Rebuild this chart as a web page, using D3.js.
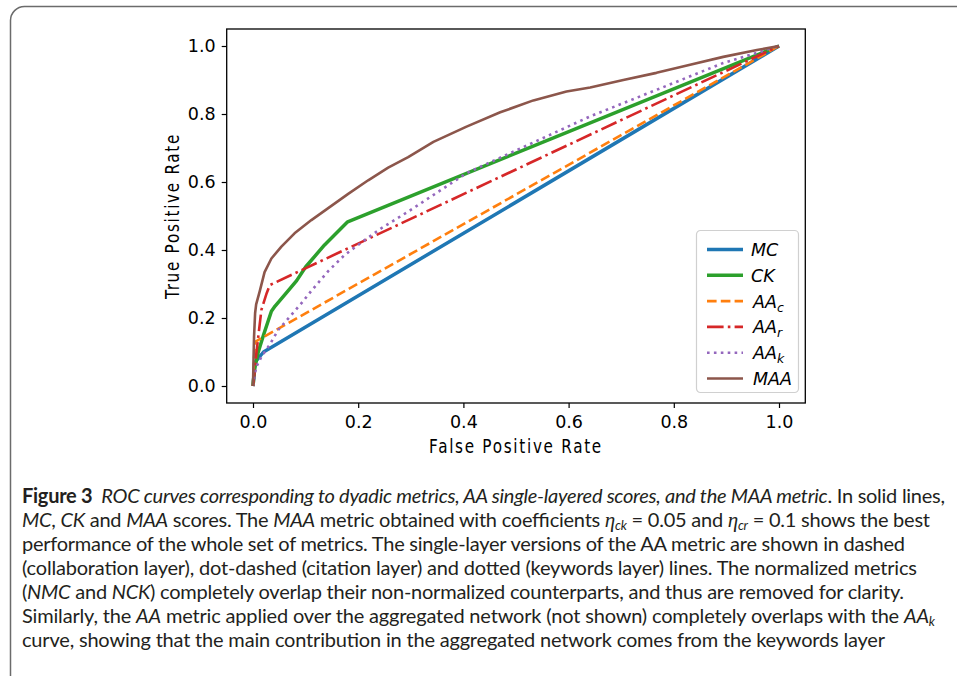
<!DOCTYPE html>
<html>
<head>
<meta charset="utf-8">
<script src="https://cdn.jsdelivr.net/npm/d3@7"></script>
<style>
  body { margin: 0; background: #fff; }
  #chart svg { display: block; }
</style>
</head>
<body>
<div id="chart"></div>
<script>
// Size of the page
var width = 957;
var height = 676;

// ROC points [fpr, tpr]
var mcPoints = [[0, 0], [0.004, 0.07], [0.02, 0.10], [1, 1]];
var ckPoints = [[0, 0], [0.003, 0.05], [0.01, 0.10], [0.02, 0.15], [0.035, 0.22], [0.042, 0.235],
    [0.063, 0.273], [0.083, 0.31], [0.1, 0.35], [0.136, 0.415], [0.18, 0.483], [1, 1]];
var aacPoints = [[0, 0], [0.002, 0.08], [0.004, 0.13], [1, 1]];
var aarPoints = [[0, 0], [0.003, 0.04], [0.006, 0.09], [0.01, 0.145], [0.016, 0.224],
    [0.026, 0.273], [0.032, 0.297], [1, 1]];
var aakPoints = [[0, 0], [0.003, 0.03], [0.006, 0.055], [0.016, 0.086], [0.032, 0.122],
    [0.048, 0.165], [0.07, 0.204], [0.093, 0.245], [0.111, 0.28], [0.143, 0.338], [0.174, 0.385],
    [0.206, 0.422], [0.244, 0.464], [0.295, 0.513], [0.406, 0.626], [0.641, 0.793],
    [0.767, 0.871], [0.894, 0.95], [1, 1]];
var maaPoints = [[0, 0], [0.001, 0.08], [0.002, 0.145], [0.004, 0.214], [0.006, 0.24],
    [0.013, 0.28], [0.022, 0.335], [0.035, 0.375], [0.054, 0.41], [0.079, 0.449],
    [0.111, 0.488], [0.143, 0.523], [0.181, 0.565], [0.219, 0.605], [0.257, 0.642],
    [0.295, 0.673], [0.343, 0.718], [0.406, 0.763], [0.47, 0.805], [0.533, 0.84],
    [0.596, 0.866], [0.641, 0.878], [0.704, 0.9], [0.767, 0.921], [0.831, 0.945],
    [0.894, 0.968], [0.958, 0.988], [1, 1]];

// Legend names and subscripts, in drawing order
var seriesNames = ["MC", "CK", "AA", "AA", "AA", "MAA"];
var seriesSubs = ["", "", "c", "r", "k", ""];
var seriesColors = ["#1f77b4", "#2ca02c", "#ff7f0e", "#d62728", "#9467bd", "#8c564b"];

// Tick values for both axes
var tickValues = [0, 0.2, 0.4, 0.6, 0.8, 1.0];

// Caption lines: [text, style] pieces, style n = normal, b = bold, i = italic, e = eta, s = italic subscript
var captionLines = [
    [["Figure 3", "b"], ["  ROC curves corresponding to dyadic metrics, AA single-layered scores, and the MAA metric", "i"], [". In solid lines,", "n"]],
    [["MC", "i"], [", ", "n"], ["CK", "i"], [" and ", "n"], ["MAA", "i"], [" scores. The ", "n"], ["MAA", "i"],
        [" metric obtained with coefficients ", "n"], ["η", "e"], ["ck", "s"], [" = 0.05 and ", "n"], ["η", "e"], ["cr", "s"],
        [" = 0.1 shows the best", "n"]],
    [["performance of the whole set of metrics. The single-layer versions of the AA metric are shown in dashed", "n"]],
    [["(collaboration layer), dot-dashed (citation layer) and dotted (keywords layer) lines. The normalized metrics", "n"]],
    [["(", "n"], ["NMC", "i"], [" and ", "n"], ["NCK", "i"], [") completely overlap their non-normalized counterparts, and thus are removed for clarity.", "n"]],
    [["Similarly, the ", "n"], ["AA", "i"], [" metric applied over the aggregated network (not shown) completely overlaps with the ", "n"], ["AA", "i"], ["k", "s"]],
    [["curve, showing that the main contribution in the aggregated network comes from the keywords layer", "n"]]
];
var captionEnds = [945, 930, 905, 917, 904, 935, 885];

var svg;

function createSVG(width, height) {
    return d3.select("#chart")
        .append("svg")
        .attr("width", width)
        .attr("height", height);
}

// Rounded frame around the figure, open to the right and bottom
function drawFrame(svg) {
    svg.append("rect")
        .attr("x", 10.5)
        .attr("y", 6.5)
        .attr("width", 1000)
        .attr("height", 1000)
        .attr("rx", 14)
        .style("fill", "none")
        .style("stroke", "#6b6b6b")
        .style("stroke-width", 1.5);
}

// Condensed axis title: wide spacing, squeezed horizontally
function axisTitle(svg, tx, ty, rot, label) {
    svg.append("text")
        .attr("transform", "translate(" + tx + "," + ty + ") rotate(" + rot + ") scale(0.78,1)")
        .attr("text-anchor", "middle")
        .style("font-family", "DejaVu Sans")
        .style("font-size", "19.5px")
        .style("letter-spacing", "2.2px")
        .style("fill", "#000")
        .text(label);
}

function drawPlot(svg) {
    var x = d3.scaleLinear().domain([-0.05, 1.05]).range([226.7, 805.3]);
    var y = d3.scaleLinear().domain([-0.05, 1.05]).range([403, 29]);

    var line = d3.line()
        .x(function(d) { return x(d[0]); })
        .y(function(d) { return y(d[1]); });

    var allSeries = [mcPoints, ckPoints, aacPoints, aarPoints, aakPoints, maaPoints];
    var widths = [3.5, 3.5, 2.6, 2.6, 2.6, 2.6];
    var dashes = [null, null, "9.6,4.2", "16.6,4.2,2.6,4.2", "2.6,4.3", null];

    var plot = svg.append("g");
    allSeries.forEach(function(pts, i) {
        plot.append("path")
            .datum(pts)
            .attr("d", line)
            .style("fill", "none")
            .style("stroke", seriesColors[i])
            .style("stroke-width", widths[i])
            .style("stroke-dasharray", dashes[i])
            .style("stroke-linejoin", "round");
    });

    // axes
    var xAxis = svg.append("g")
        .attr("transform", "translate(0,403)")
        .call(d3.axisBottom(x).tickValues(tickValues).tickFormat(d3.format(".1f")).tickSize(5).tickPadding(8));
    var yAxis = svg.append("g")
        .attr("transform", "translate(226.7,0)")
        .call(d3.axisLeft(y).tickValues(tickValues).tickFormat(d3.format(".1f")).tickSize(5).tickPadding(6));

    [xAxis, yAxis].forEach(function(ax) {
        ax.select(".domain").remove();
        ax.selectAll("line").style("stroke", "#000").style("stroke-width", 1.2);
        ax.selectAll("text")
            .style("font-family", "DejaVu Sans")
            .style("font-size", "17.5px")
            .style("fill", "#000");
    });

    // frame of the axes
    svg.append("rect")
        .attr("x", 226.7)
        .attr("y", 29)
        .attr("width", 578.6)
        .attr("height", 374)
        .style("fill", "none")
        .style("stroke", "#000")
        .style("stroke-width", 1.3);

    axisTitle(svg, 516, 453, 0, "False Positive Rate");
    axisTitle(svg, 179, 216, -90, "True Positive Rate");

    createLegend(svg, widths, dashes);
}

function createLegend(svg, widths, dashes) {
    var legend = svg.append("g").attr("transform", "translate(696,230)");

    legend.append("rect")
        .attr("x", 0.5)
        .attr("y", 0.5)
        .attr("width", 102)
        .attr("height", 162)
        .attr("rx", 4)
        .style("fill", "#fff")
        .style("fill-opacity", 0.8)
        .style("stroke", "#d0d0d0")
        .style("stroke-width", 1.2);

    var rows = legend.selectAll("g.row")
        .data(seriesNames)
        .enter()
        .append("g")
        .attr("class", "row")
        .attr("transform", function(d, i) { return "translate(0," + (19.5 + i * 25.8) + ")"; });

    rows.append("line")
        .attr("x1", 11)
        .attr("x2", 47)
        .style("stroke", function(d, i) { return seriesColors[i]; })
        .style("stroke-width", function(d, i) { return widths[i]; })
        .style("stroke-dasharray", function(d, i) { return dashes[i]; });

    var labels = rows.append("text")
        .attr("x", function(d, i) { return i < 2 ? 55 : 57; })
        .attr("y", 6.5)
        .style("font-family", "DejaVu Sans")
        .style("font-style", "italic")
        .style("font-size", "17.5px")
        .style("fill", "#000");
    labels.append("tspan").text(function(d) { return d; });
    labels.append("tspan")
        .attr("dy", 4)
        .style("font-size", "12.5px")
        .text(function(d, i) { return seriesSubs[i]; });
}

function drawCaption(svg) {
    var startX = 22;
    captionLines.forEach(function(parts, i) {
        var t = svg.append("text")
            .attr("x", startX)
            .attr("y", 502.5 + i * 24.1)
            .attr("textLength", captionEnds[i] - startX)
            .attr("lengthAdjust", "spacing")
            .style("font-family", "Lato")
            .style("font-size", "20px")
            .style("fill", "#231f20")
            .attr("xml:space", "preserve");
        var shifted = false;
        parts.forEach(function(p) {
            var s = t.append("tspan").text(p[0]);
            if (p[1] === "b") s.style("font-weight", "bold");
            if (p[1] === "i") s.style("font-style", "italic");
            if (p[1] === "e") {
                s.style("font-family", "Liberation Serif").style("font-style", "italic").style("font-size", "21px");
            }
            if (p[1] === "s") {
                s.attr("dy", 3).style("font-style", "italic").style("font-size", "13px");
                shifted = true;
            } else if (shifted) {
                s.attr("dy", -3);
                shifted = false;
            }
        });
    });
}

function main() {
    svg = createSVG(width, height);
    drawFrame(svg);
    drawPlot(svg);
    drawCaption(svg);
}

window.onload = function() {
    main();
};
</script>
</body>
</html>
